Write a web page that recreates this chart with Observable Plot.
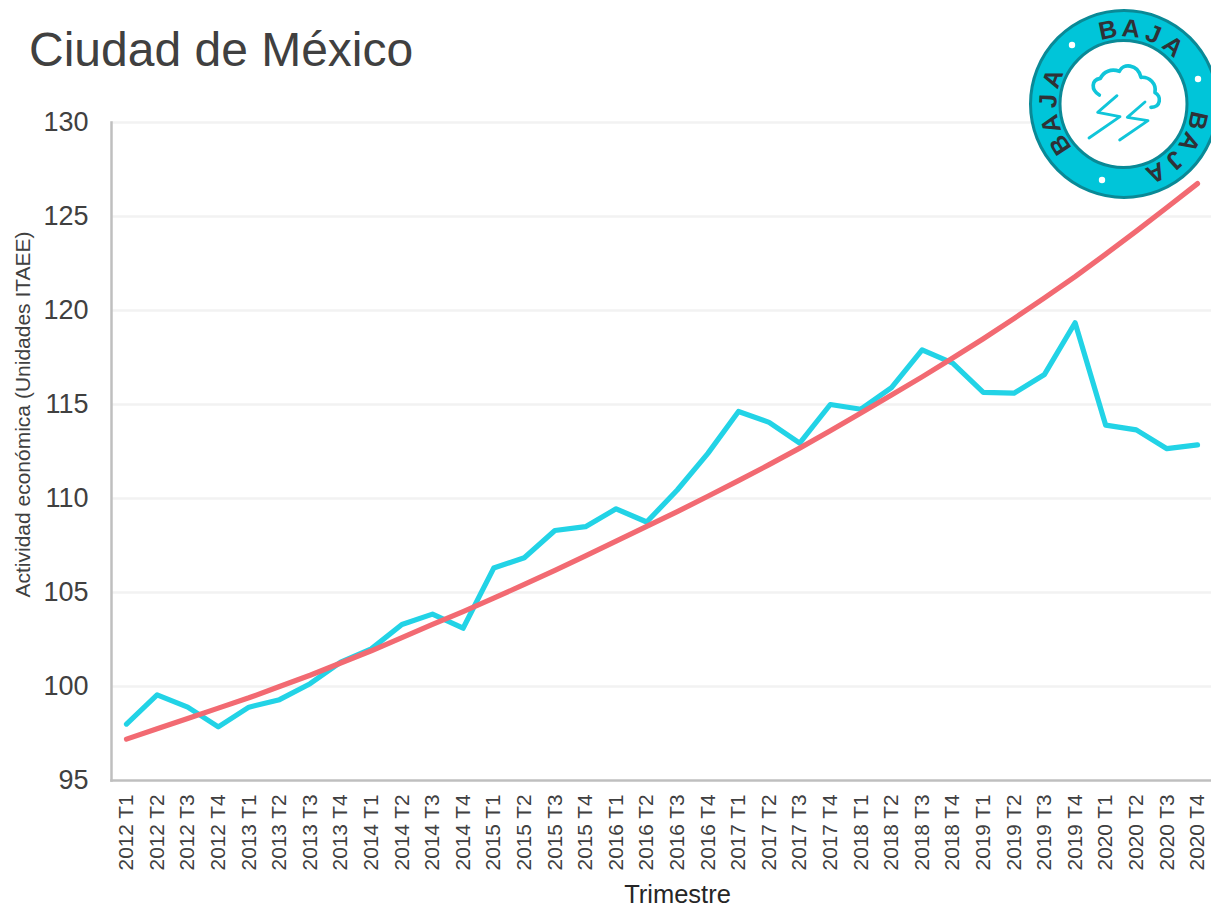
<!DOCTYPE html>
<html lang="es">
<head>
<meta charset="utf-8">
<script src="https://cdn.jsdelivr.net/npm/d3@7"></script>
<script src="https://cdn.jsdelivr.net/npm/@observablehq/plot@0.6"></script>
<style>
html,body{margin:0;padding:0;background:#fff;overflow:hidden;width:1211px;height:907px}
#wrap{position:relative;width:1211px;height:907px;font-family:"Liberation Sans",Arial,sans-serif}
#title{height:90px;box-sizing:border-box;padding:22px 0 0 29px;font-size:48px;line-height:55px;color:#404040}
#badge{position:absolute;left:0;top:0}
#chart svg{display:block}
</style>
</head>
<body>
<div id="wrap">
<div id="title">Ciudad de México</div>
<div id="chart"></div>
<svg id="badge" width="1211" height="210" viewBox="0 0 1211 210"></svg>
</div>
<script>
const quarters = [
 "2012 T1","2012 T2","2012 T3","2012 T4","2013 T1","2013 T2","2013 T3","2013 T4",
 "2014 T1","2014 T2","2014 T3","2014 T4","2015 T1","2015 T2","2015 T3","2015 T4",
 "2016 T1","2016 T2","2016 T3","2016 T4","2017 T1","2017 T2","2017 T3","2017 T4",
 "2018 T1","2018 T2","2018 T3","2018 T4","2019 T1","2019 T2","2019 T3","2019 T4",
 "2020 T1","2020 T2","2020 T3","2020 T4"];
const actividad = [
 98.0,99.55,98.9,97.85,98.9,99.3,100.15,101.3,
 102.0,103.3,103.85,103.1,106.3,106.85,108.3,108.5,
 109.45,108.75,110.45,112.4,114.63,114.05,112.95,115.0,
 114.75,115.9,117.9,117.2,115.65,115.6,116.6,119.35,
 113.9,113.65,112.65,112.85];
const tendencia = [
 97.2,97.75,98.3,98.85,99.4,100.0,100.6,101.25,
 101.9,102.6,103.3,103.98,104.7,105.43,106.18,106.95,
 107.73,108.52,109.3,110.12,110.95,111.8,112.68,113.6,
 114.55,115.5,116.47,117.47,118.5,119.57,120.67,121.8,
 123.0,124.22,125.48,126.75];
const yTicks = [95,100,105,110,115,120,125,130];
const rows = quarters.map((q,i)=>({q,a:actividad[i],t:tendencia[i]}));

const plot = Plot.plot({
  width:1211, height:817,
  marginTop:32, marginBottom:127, marginLeft:111, marginRight:0,
  style:{fontFamily:'"Liberation Sans",Arial,sans-serif',background:"#fff",overflow:"visible"},
  x:{type:"point",domain:quarters,range:[126,1197],padding:0,round:false,label:null},
  y:{domain:[95,130],label:null},
  marks:[
    Plot.ruleY(yTicks.slice(1),{y:d=>d,stroke:"#f2f2f2",strokeWidth:2.5}),
    Plot.frame({anchor:"left",stroke:"#bfbfbf",strokeWidth:2.5}),
    Plot.frame({anchor:"bottom",stroke:"#bfbfbf",strokeWidth:2.5}),
    Plot.axisY({ticks:yTicks,tickSize:0,tickPadding:23,fontSize:27,fill:"#404040",label:null}),
    Plot.axisX({tickSize:0,tickRotate:-90,tickPadding:14,fontSize:20.8,fill:"#404040",label:null}),
    Plot.line(rows,{x:"q",y:"a",stroke:"#22d3e6",strokeWidth:5.2,strokeLinecap:"round",strokeLinejoin:"round"}),
    Plot.line(rows,{x:"q",y:"t",stroke:"#f26a72",strokeWidth:5.2,strokeLinecap:"round",strokeLinejoin:"round"}),
    Plot.text(["Actividad económica (Unidades ITAEE)"],{frameAnchor:"left",textAnchor:"middle",rotate:-90,dx:-88,dy:-37,fontSize:21,fill:"#404040"}),
    Plot.text(["Trimestre"],{frameAnchor:"bottom",dx:16,dy:122,fontSize:25.5,fill:"#262626"})
  ]
});
document.getElementById("chart").appendChild(plot);

// Insignia decorativa
const cx = 1124, cy = 104;
const b = d3.select("#badge");
b.append("circle").attr("cx",cx).attr("cy",cy).attr("r",93.5).attr("fill","#00c5d9").attr("stroke","#0a8996").attr("stroke-width",3);
b.append("circle").attr("cx",cx-0.5).attr("cy",cy).attr("r",63.5).attr("fill","#fff").attr("stroke","#0a8996").attr("stroke-width",3);
[[1072,45],[1198,79],[1102,180]].forEach(([x,y])=>b.append("circle").attr("cx",x).attr("cy",y).attr("r",3.2).attr("fill","#fff"));
const word = ["B","A","J","A"];
[14,129,263.5].forEach(mid=>{
  word.forEach((c,i)=>{
    const ang = mid + (i-1.5)*17.5;
    b.append("text").text(c)
      .attr("transform",`translate(${cx},${cy}) rotate(${ang}) translate(0,-67.5)`)
      .attr("text-anchor","middle")
      .attr("font-family",'"Liberation Sans",Arial,sans-serif')
      .attr("font-weight",700).attr("font-size",25).attr("fill","#2f3136");
  });
});
const ic = b.append("g").attr("transform","translate(1011,0) scale(0.3333)").attr("fill","none").attr("stroke","#10c5d9").attr("stroke-linecap","round").attr("stroke-linejoin","round");
ic.append("path").attr("stroke-width",11).attr("d","M265 285 C240 270 240 240 268 235 C278 215 300 205 325 214 C335 190 380 190 390 232 C415 230 437 250 432 278 C452 288 450 322 420 322");
ic.append("path").attr("stroke-width",8.5).attr("d","M318 287 L260 337 L327 350 L234 414");
ic.append("path").attr("stroke-width",8.5).attr("d","M402 306 L349 352 L411 362 L326 420");
</script>
</body>
</html>
